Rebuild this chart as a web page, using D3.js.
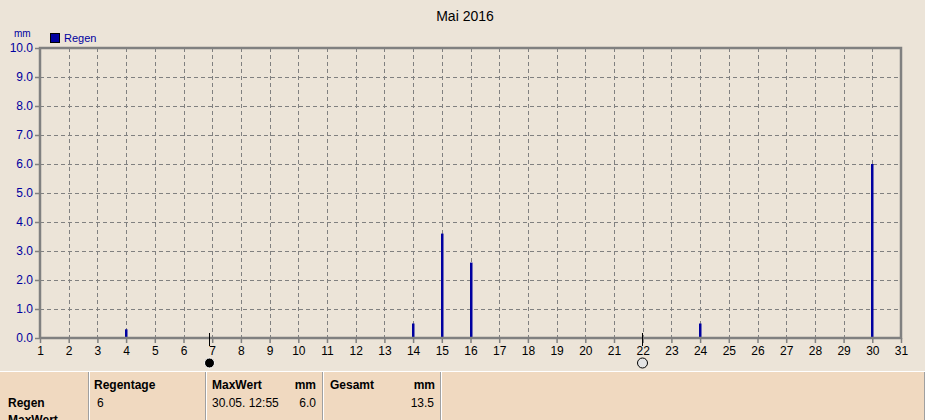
<!DOCTYPE html>
<html><head><meta charset="utf-8">
<script src="https://cdn.jsdelivr.net/npm/d3@7"></script>
<style>
html,body{margin:0;padding:0;background:#ECE4D8;}
svg{display:block;font-family:"Liberation Sans",Arial,sans-serif;}
</style></head>
<body>
<script>
const days = d3.range(1, 32);
const rainDays = [4, 14, 15, 16, 24, 30];
const rainValues = [0.3, 0.5, 3.6, 2.6, 0.5, 6.0];
const yTicks = [0,1,2,3,4,5,6,7,8,9,10];
const moonDays = [6.9, 21.97];
const moonTypes = ["new", "full"];
const title = "Mai 2016";
const seriesName = "Regen";
const unit = "mm";
const tableHeaders = ["Regentage", "MaxWert", "Gesamt"];
const tableRowLabels = ["Regen", "MaxWert"];
const regentage = "6";
const maxWertTime = "30.05.  12:55";
const maxWertValue = "6.0";
const gesamtValue = "13.5";

const W = 925, H = 420;
const svg = d3.select("body").append("svg").attr("width", W).attr("height", H);
svg.append("rect").attr("width", W).attr("height", H).attr("fill", "#ECE4D8");

const x = d3.scaleLinear().domain([1, 31]).range([40, 901]);
const y = d3.scaleLinear().domain([0, 10]).range([338, 48]);
const blue = "#0000A0", gray = "#808080";

// title
svg.append("text").attr("x", 465).attr("y", 21).attr("text-anchor", "middle")
  .attr("font-size", 14).attr("fill", "#000").text(title);

// unit + legend
svg.append("text").attr("x", 14).attr("y", 37).attr("font-size", 10).attr("fill", blue).text(unit);
svg.append("rect").attr("x", 50.5).attr("y", 33.5).attr("width", 9).attr("height", 9)
  .attr("fill", blue).attr("stroke", "#000");
svg.append("text").attr("x", 64).attr("y", 42).attr("font-size", 11).attr("fill", blue).text(seriesName);

// grid
const g = svg.append("g");
g.selectAll(".vg").data(days.filter(d => d > 1 && d < 31)).enter().append("line")
  .attr("x1", d => Math.round(x(d)) + 0.5).attr("x2", d => Math.round(x(d)) + 0.5)
  .attr("y1", y(10)).attr("y2", y(0))
  .attr("stroke", gray).attr("stroke-dasharray", "4,3");
g.selectAll(".hg").data(yTicks.filter(d => d > 0 && d < 10)).enter().append("line")
  .attr("x1", x(1)).attr("x2", x(31))
  .attr("y1", d => Math.round(y(d)) + 0.5).attr("y2", d => Math.round(y(d)) + 0.5)
  .attr("stroke", gray).attr("stroke-dasharray", "4,3");

// bars
g.selectAll(".bar").data(rainDays).enter().append("rect")
  .attr("x", d => Math.round(x(d)) - 1).attr("width", 2.5)
  .attr("y", (d, i) => y(rainValues[i])).attr("height", (d, i) => y(0) - y(rainValues[i]))
  .attr("fill", blue);

// frame
svg.append("path")
  .attr("d", `M${x(1)},${y(0)}V${y(10)}H${x(31)}V${y(0)}H${x(1)}`)
  .attr("fill", "none").attr("stroke", gray).attr("stroke-width", 2.5);

// y axis
const yAxis = d3.axisLeft(y).tickValues(yTicks).tickFormat(d3.format(".1f")).tickSize(5).tickPadding(2);
const ya = svg.append("g").attr("transform", `translate(${x(1)},0)`).call(yAxis);
ya.select(".domain").remove();
ya.selectAll("line").attr("stroke", gray).attr("stroke-width", 1.5);
ya.selectAll("text").attr("fill", blue).attr("font-size", 12).attr("font-family", "Liberation Sans, Arial, sans-serif");

// x axis
const xAxis = d3.axisBottom(x).tickValues(days).tickFormat(d3.format("d")).tickSize(5).tickPadding(3);
const xa = svg.append("g").attr("transform", `translate(0,${y(0)})`).call(xAxis);
xa.select(".domain").remove();
xa.selectAll("line").attr("stroke", gray).attr("stroke-width", 1.5);
xa.selectAll("text").attr("fill", "#000").attr("font-size", 12).attr("font-family", "Liberation Sans, Arial, sans-serif");

// moon markers
moonDays.forEach((d, i) => {
  const mx = Math.round(x(d)) + 0.5;
  svg.append("line").attr("x1", mx).attr("x2", mx).attr("y1", 333).attr("y2", 346)
    .attr("stroke", "#000").attr("stroke-width", 1);
  svg.append("circle").attr("cx", mx).attr("cy", 363).attr("r", 5)
    .attr("fill", moonTypes[i] === "new" ? "#000" : "#E4E4E4")
    .attr("stroke", moonTypes[i] === "new" ? "#fff" : "#000").attr("stroke-width", 1);
});

// table
const tY = 371;
svg.append("rect").attr("x", 0).attr("y", tY).attr("width", W).attr("height", H - tY).attr("fill", "#F0D9C0");
svg.append("line").attr("x1", 0).attr("x2", W).attr("y1", tY + 0.5).attr("y2", tY + 0.5).attr("stroke", "#fff");
[88, 205, 322, 440].forEach(sx => {
  svg.append("line").attr("x1", sx + 0.5).attr("x2", sx + 0.5).attr("y1", tY + 1).attr("y2", H).attr("stroke", "#A0A0A0");
  svg.append("line").attr("x1", sx + 1.5).attr("x2", sx + 1.5).attr("y1", tY + 1).attr("y2", H).attr("stroke", "#fff");
});
svg.append("line").attr("x1", 924.5).attr("x2", 924.5).attr("y1", tY + 1).attr("y2", H).attr("stroke", "#A0A0A0");

const bold = (t, xx, yy, anchor) => svg.append("text").attr("x", xx).attr("y", yy)
  .attr("font-size", 12).attr("font-weight", "bold").attr("fill", "#000")
  .attr("text-anchor", anchor || "start").text(t);
const reg = (t, xx, yy, anchor) => svg.append("text").attr("x", xx).attr("y", yy)
  .attr("font-size", 12).attr("fill", "#000")
  .attr("text-anchor", anchor || "start").text(t);

bold(tableRowLabels[0], 8, 407);
bold(tableRowLabels[1], 8, 424);
bold(tableHeaders[0], 94, 389);
reg(regentage, 97, 407);
bold(tableHeaders[1], 212, 389);
bold(unit, 316, 389, "end");
reg(maxWertTime, 212, 407);
reg(maxWertValue, 316, 407, "end");
bold(tableHeaders[2], 330, 389);
bold(unit, 435, 389, "end");
reg(gesamtValue, 434, 407, "end");
</script>
</body></html>
